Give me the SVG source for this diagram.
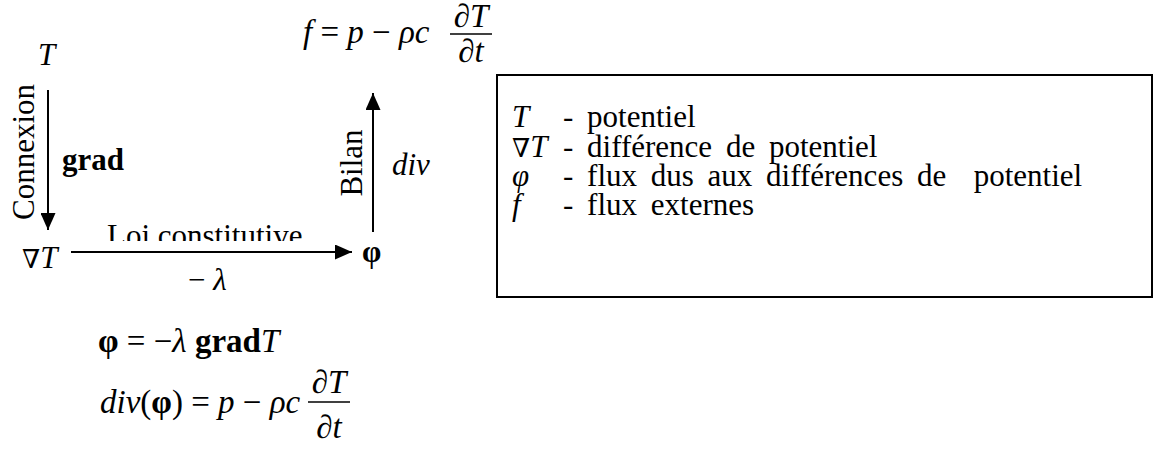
<svg xmlns="http://www.w3.org/2000/svg" width="1168" height="456" viewBox="0 0 1168 456">
<style>
text{font-family:"Liberation Serif","Times New Roman","DejaVu Serif",serif;font-size:31px;fill:#000}
.i{font-style:italic}
.b{font-weight:bold}
.n{font-style:normal}
.eq{font-size:33px}
.lg{font-size:31px;word-spacing:6px}
.nab{font-family:"DejaVu Serif",serif;font-size:26px}
.ln{stroke:#000;stroke-width:2;fill:none}
.bar{stroke:#000;stroke-width:1.5}
</style>
<defs>
<marker id="ah" markerUnits="userSpaceOnUse" markerWidth="17" markerHeight="15" refX="17" refY="7.5" orient="auto">
<path d="M0,0 L17,7.5 L0,15 z" fill="#000"/>
</marker>
<clipPath id="clipLoi"><rect x="0" y="0" width="400" height="241"/></clipPath>
</defs>
<rect width="1168" height="456" fill="#fff"/>

<g id="connectors">
<line class="ln" x1="48" y1="90" x2="48" y2="230" marker-end="url(#ah)"/>
<line class="ln" x1="71" y1="252" x2="352" y2="252" marker-end="url(#ah)"/>
<line class="ln" x1="373" y1="232" x2="373" y2="93" marker-end="url(#ah)"/>
</g>

<g id="node-T"><text class="i" x="38" y="65">T</text></g>
<g id="node-gradT"><text x="22" y="268"><tspan class="nab">∇</tspan><tspan class="i">T</tspan></text></g>
<g id="node-phi"><text class="b" x="362" y="262">φ</text></g>
<g id="node-f">
<text class="i eq" x="303" y="43" xml:space="preserve">f <tspan class="n">=</tspan> p <tspan class="n">−</tspan> ρc</text>
<line class="bar" x1="450" y1="34" x2="492" y2="34"/>
<text class="i eq" x="471" y="27" text-anchor="middle">∂T</text>
<text class="i eq" x="471" y="62" text-anchor="middle">∂t</text>
</g>

<g id="labels">
<text transform="translate(34,152) rotate(-90)" text-anchor="middle">Connexion</text>
<text class="b" x="62" y="170">grad</text>
<text x="107" y="246" clip-path="url(#clipLoi)">Loi constitutive</text>
<text x="188" y="290">− <tspan class="i">λ</tspan></text>
<text transform="translate(362,163) rotate(-90)" text-anchor="middle">Bilan</text>
<text class="i" x="392" y="175">div</text>
</g>

<g id="legend">
<rect x="497" y="75" width="655" height="222" fill="none" stroke="#000" stroke-width="2"/>
<text class="i lg" x="512" y="127">T</text>
<text class="lg" x="563" y="127">- potentiel</text>
<text class="lg" x="512" y="157"><tspan class="nab">∇</tspan><tspan class="i">T</tspan></text>
<text class="lg" x="563" y="157">- différence de potentiel</text>
<text class="i lg" x="512" y="186">φ</text>
<text class="lg" x="563" y="186" xml:space="preserve">- flux dus aux différences de  potentiel</text>
<text class="i lg" x="512" y="215">f</text>
<text class="lg" x="563" y="215">- flux externes</text>
</g>

<g id="equations">
<text class="eq" x="98" y="352"><tspan class="b">φ</tspan> = −<tspan class="i">λ</tspan> <tspan class="b">grad</tspan><tspan class="i">T</tspan></text>
<text class="eq" x="100" y="413" xml:space="preserve"><tspan class="i">div</tspan>(<tspan class="b">φ</tspan>) = <tspan class="i">p</tspan> − <tspan class="i">ρc</tspan></text>
<line class="bar" x1="308" y1="402" x2="350" y2="402"/>
<text class="i eq" x="329" y="393" text-anchor="middle">∂T</text>
<text class="i eq" x="329" y="438" text-anchor="middle">∂t</text>
</g>
</svg>
